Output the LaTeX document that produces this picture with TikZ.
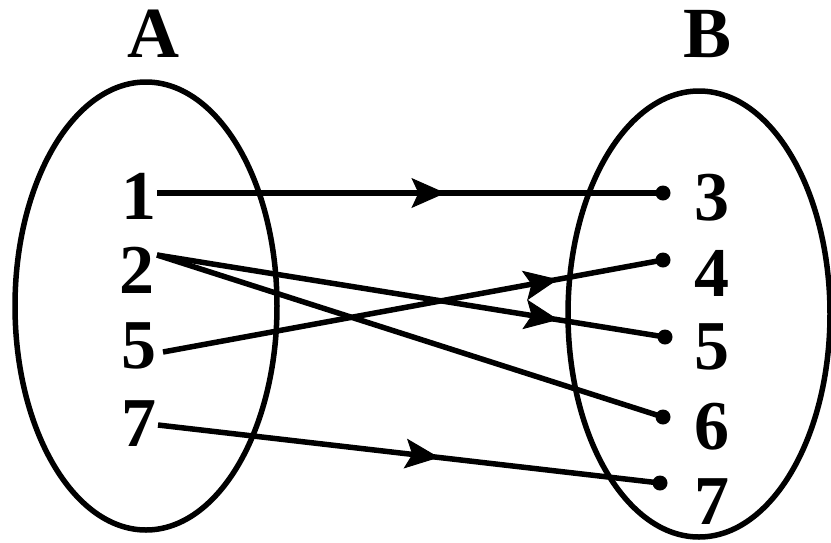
\documentclass[tikz,border=0pt]{standalone}
\usepackage{fontspec}
\setmainfont{Liberation Serif}
\usetikzlibrary{arrows.meta,decorations.markings,shapes.geometric}
\begin{document}
\begin{tikzpicture}[x=1pt,y=-1pt,
  setshape/.style={draw, ellipse, line width=5.5pt, inner sep=0pt},
  num/.style={font=\fontsize{70}{70}\selectfont\bfseries, inner sep=0pt},
  lbl/.style={font=\fontsize{72}{72}\selectfont\bfseries, inner sep=0pt},
  dot/.style={circle, fill=black, inner sep=0pt, minimum size=15pt},
  conn/.style={line width=5.5pt},
  midarrow/.style={postaction={decorate}, decoration={markings, mark=at position #1 with {\arrow[line width=1pt]{Stealth[length=34pt,width=30pt,inset=7pt]}}}}
]
\useasboundingbox (0,0) rectangle (831,542);
% sets
\node[setshape, minimum width=262pt, minimum height=448pt] (setA) at (146,306) {};
\node[setshape, minimum width=262pt, minimum height=446pt] (setB) at (699,314) {};
\node[lbl] (labA) at (153,34) {A};
\node[lbl] (labB) at (708,34) {B};
% left numbers
\node[num] (a1) at (139,196) {1};
\node[num] (a2) at (137,270) {2};
\node[num] (a5) at (139,346) {5};
\node[num] (a7) at (139,424) {7};
% right numbers
\node[num] (b3) at (712,198) {3};
\node[num] (b4) at (712,273) {4};
\node[num] (b5) at (712,347) {5};
\node[num] (b6) at (712,427) {6};
\node[num] (b7) at (712,502) {7};
% start points
\coordinate (s1) at (157,193);
\coordinate (s2) at (157,255);
\coordinate (s5) at (163,352);
\coordinate (s7) at (158,425);
% end dots
\node[dot] (d3) at (663,193) {};
\node[dot] (d4) at (663,260) {};
\node[dot] (d5) at (665,337) {};
\node[dot] (d6) at (663,417) {};
\node[dot] (d7) at (660,483) {};
% connectors
\draw[conn, midarrow=0.57] (s1) -- (d3.center);
\draw[conn, midarrow=0.79] (s2) -- (d5.center);
\draw[conn] (s2) -- (d6.center);
\draw[conn, midarrow=0.79] (s5) -- (d4.center);
\draw[conn, midarrow=0.56] (s7) -- (d7.center);
\end{tikzpicture}
\end{document}
